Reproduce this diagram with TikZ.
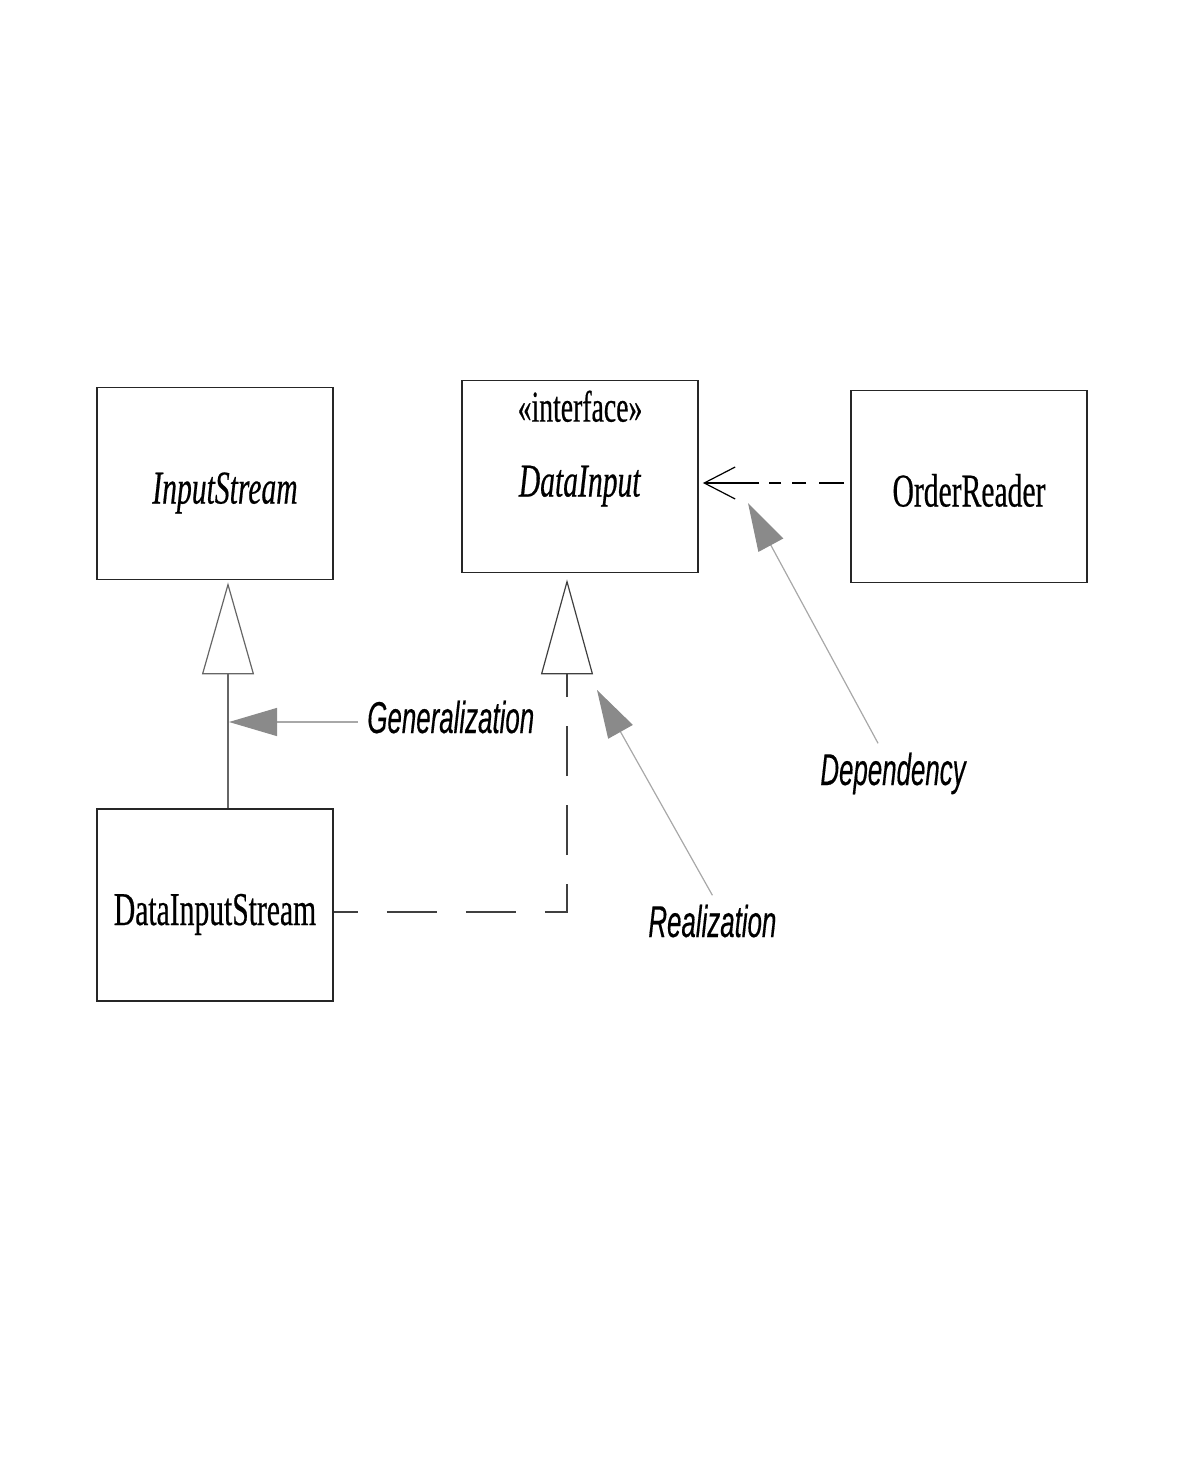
\documentclass[tikz,border=0pt]{standalone}
\usepackage{fontspec}
\setmainfont[FakeStretch=0.63, FakeBold=0.4]{Liberation Serif}
\newfontfamily\notefont[FakeStretch=0.58, FakeBold=0.3]{Liberation Sans}
\usepackage{tikz}
\usetikzlibrary{arrows.meta,positioning}
\usepackage{xcolor}
\definecolor{pointerhead}{HTML}{8A8A8A}
\definecolor{pointerline}{HTML}{A8A8A8}
\definecolor{boxline}{HTML}{262626}

\begin{document}
\begin{tikzpicture}[x=0.5pt, y=-0.5pt,
  classbox/.style={draw=boxline, line width=0.9pt, rectangle, minimum width=118pt, minimum height=96pt, inner sep=0pt, text height=20pt, text depth=0pt, font=\fontsize{23.5}{28}\selectfont},
  note/.style={font=\notefont\itshape\fontsize{22.3}{26}\selectfont, anchor=base west, inner sep=4.5pt},
  pointer/.style={draw=pointerline, line width=0.6pt, -{Triangle[length=24pt, width=14pt, color=pointerhead]}},
  inherit/.style={draw=gray!80!black, line width=0.9pt, shorten >=1pt, -{Triangle[open, length=46pt, width=26pt, line width=0.6pt, fill=white]}},
  realize/.style={draw=black!75, line width=0.8pt, dash pattern=on 25pt off 14.5pt, dash phase=13pt, shorten >=3pt, -{Triangle[open, length=47.5pt, width=26pt, line width=0.6pt, fill=white]}},
  depend/.style={draw=black, line width=0.6pt, dash pattern=on 12.5pt off 6.5pt on 7pt off 5.5pt on 6pt off 5pt on 60pt off 1pt, shorten <=3pt, shorten >=2pt, -{Straight Barb[length=15.5pt, width=16pt]}}]
\useasboundingbox (0,0) rectangle (1184,1460);

\node[classbox] (InputStream) at (215,483.5) {\hspace*{10pt}\textit{InputStream}};
\node[classbox] (DataInput) at (580,476.5) {\textit{DataInput}};
\node[classbox] (OrderReader) at (969,486.5) {OrderReader};
\node[classbox] (DataInputStream) at (215,905) {DataInputStream};
\node[anchor=base, font=\fontsize{22}{26}\selectfont] (Stereotype) at ([yshift=-21pt]DataInput.north) {«interface»};

\node[note] (Generalization) at (358,733) {Generalization};
\node[note] (Realization) at (639,937) {Realization};
\node[note] (Dependency) at (811,785) {Dependency};

\coordinate (genx) at (228,0);
\coordinate (gentip) at (229,722);
\coordinate (realcorner) at (567,912);
\coordinate (realtip) at (597,690);
\coordinate (deptip) at (748,503);
\coordinate (depy) at (0,483);

\draw[inherit] (DataInputStream.north -| genx) -- (InputStream.south -| genx);
\draw[realize] (DataInputStream.east |- realcorner) -- (realcorner) -- (DataInput.south -| realcorner);
\draw[depend] (OrderReader.west |- depy) -- (DataInput.east |- depy);

\draw[pointer] (Generalization.west |- gentip) -- (gentip);
\draw[pointer] (Realization.north) -- (realtip);
\draw[pointer] ([xshift=-7.5pt]Dependency.north) -- (deptip);
\end{tikzpicture}
\end{document}
